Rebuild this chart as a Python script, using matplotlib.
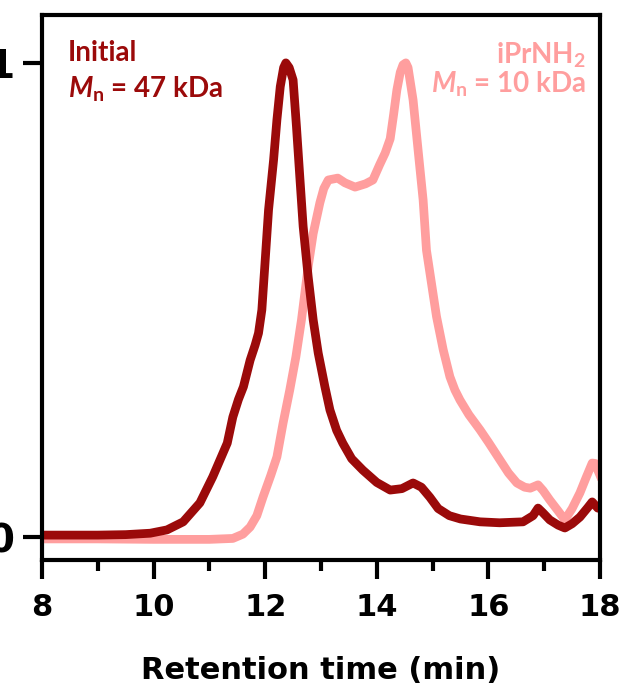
import matplotlib
matplotlib.use("Agg")
import matplotlib.pyplot as plt

# retention time (min) and normalised signal
t_initial = [8.0, 8.5, 9.0, 9.5, 9.94, 10.24, 10.53, 10.83, 11.06, 11.32, 11.42, 11.52, 11.61, 11.73,
             11.82, 11.88, 11.94, 12.0, 12.06, 12.15, 12.21, 12.27, 12.33, 12.37, 12.43, 12.5, 12.56,
             12.62, 12.68, 12.77, 12.86, 12.95, 13.07, 13.16, 13.28, 13.39, 13.55, 13.75, 14.0, 14.24,
             14.45, 14.65, 14.8, 14.95, 15.1, 15.3, 15.5, 15.85, 16.2, 16.62, 16.8, 16.89, 16.97, 17.1,
             17.25, 17.37, 17.5, 17.64, 17.78, 17.86, 17.96, 18.0]
v_initial = [0.004, 0.004, 0.004, 0.005, 0.008, 0.015, 0.032, 0.072, 0.127, 0.198, 0.253, 0.29, 0.317, 0.373,
             0.405, 0.43, 0.479, 0.584, 0.69, 0.795, 0.88, 0.95, 0.99, 1.0, 0.99, 0.964, 0.866,
             0.76, 0.655, 0.549, 0.458, 0.388, 0.317, 0.268, 0.225, 0.198, 0.165, 0.141, 0.115, 0.099,
             0.102, 0.114, 0.105, 0.084, 0.06, 0.045, 0.038, 0.032, 0.03, 0.032, 0.045, 0.061, 0.052, 0.036,
             0.025, 0.019, 0.028, 0.042, 0.062, 0.074, 0.061, 0.06]

t_iprnh2 = [8.0, 9.0, 10.0, 11.0, 11.42, 11.6, 11.73, 11.85, 11.96, 12.1, 12.21, 12.32, 12.44, 12.55,
            12.65, 12.77, 12.86, 12.98, 13.05, 13.13, 13.3, 13.43, 13.61, 13.8, 13.93, 14.05, 14.15,
            14.24, 14.3, 14.36, 14.42, 14.47, 14.52, 14.56, 14.65, 14.74, 14.83, 14.89, 14.98, 15.07,
            15.19, 15.31, 15.4, 15.49, 15.65, 15.85, 16.0, 16.21, 16.36, 16.51, 16.65, 16.75, 16.89,
            16.98, 17.1, 17.25, 17.37, 17.5, 17.64, 17.75, 17.86, 17.92, 17.96, 18.0]
v_iprnh2 = [-0.004, -0.004, -0.005, -0.005, -0.003, 0.006, 0.021, 0.045, 0.084, 0.13, 0.169, 0.24, 0.31, 0.38,
            0.458, 0.57, 0.64, 0.705, 0.735, 0.753, 0.757, 0.747, 0.738, 0.745, 0.753, 0.785, 0.81,
            0.84, 0.89, 0.943, 0.98, 0.996, 1.0, 0.99, 0.922, 0.816, 0.711, 0.605, 0.535, 0.465,
            0.395, 0.338, 0.31, 0.289, 0.258, 0.226, 0.2, 0.162, 0.135, 0.114, 0.105, 0.103, 0.11,
            0.098, 0.078, 0.055, 0.036, 0.06, 0.093, 0.125, 0.156, 0.155, 0.141, 0.13]

dark = "#9B0A0A"
pink = "#FF9E9E"

plt.rcParams["mathtext.fontset"] = "custom"
plt.rcParams["mathtext.it"] = "Lato:italic:bold"
plt.rcParams["mathtext.rm"] = "Lato:bold"

fig = plt.figure(figsize=(6.21, 6.96), dpi=100)
ax = fig.add_axes([42 / 621, 136 / 696, 558 / 621, 545 / 696])

ax.plot(t_iprnh2, v_iprnh2, color=pink, lw=6.3, solid_joinstyle="round")
ax.plot(t_initial, v_initial, color=dark, lw=6.3, solid_joinstyle="round")

ax.set_xlim(8, 18)
ax.set_ylim(-0.0485, 1.101)
ax.set_xticks([8, 10, 12, 14, 16, 18])
ax.set_xticks([9, 11, 13, 15, 17], minor=True)
ax.set_yticks([0, 1])
ax.set_yticklabels(["0", "1"])

for s in ax.spines.values():
    s.set_linewidth(3)
ax.tick_params(axis="x", which="major", length=14, width=3, pad=9.5)
ax.tick_params(axis="x", which="minor", length=8, width=3)
ax.tick_params(axis="y", length=14, width=3, pad=6)
for lab in ax.get_xticklabels():
    lab.set_fontfamily("DejaVu Sans")
    lab.set_fontweight("bold")
    lab.set_fontsize(22)
for lab in ax.get_yticklabels():
    lab.set_fontfamily("DejaVu Sans")
    lab.set_fontweight("bold")
    lab.set_fontsize(28)

ax.set_xlabel("Retention time (min)", fontfamily="DejaVu Sans", fontweight="bold", fontsize=22, labelpad=25)

kw = dict(transform=ax.transAxes, fontfamily="Lato", fontweight="bold", fontsize=20, va="baseline")
ax.text(0.047, 0.9156, "Initial", color=dark, ha="left", **kw)
ax.text(0.047, 0.8495, r"$M_\mathregular{n}$ = 47 kDa", color=dark, ha="left", **kw)
ax.text(0.975, 0.9119, r"iPrNH$_\mathregular{2}$", color=pink, ha="right", **kw)
ax.text(0.975, 0.8587, r"$M_\mathregular{n}$ = 10 kDa", color=pink, ha="right", **kw)

fig.savefig("out.png", dpi=100)
